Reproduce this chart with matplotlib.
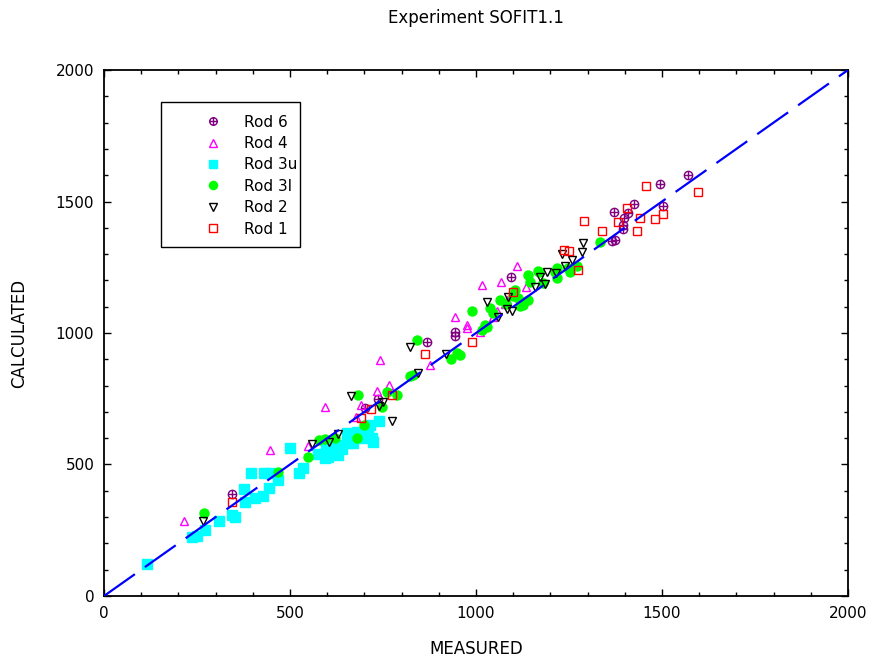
import numpy as np
import matplotlib
matplotlib.use("Agg")
from matplotlib import pyplot as plt
from matplotlib.path import Path
from matplotlib.patches import Rectangle
from matplotlib.ticker import MultipleLocator

# measured / calculated values per rod
rod6_x = [344, 702, 737, 868, 944, 944, 1094, 1366, 1374, 1395, 1395, 1398, 1409, 1371, 1425, 1503, 1495, 1570]
rod6_y = [388, 715, 749, 966, 989, 1004, 1213, 1350, 1354, 1395, 1411, 1437, 1456, 1460, 1490, 1483, 1567, 1601]

rod4_x = [215, 446, 548, 594, 677, 691, 734, 742, 766, 876, 944, 976, 976, 1011, 1016, 1046, 1056, 1067,
          1083, 1078, 1110, 1134]
rod4_y = [285, 555, 570, 719, 681, 726, 779, 897, 802, 878, 1061, 1030, 1019, 1004, 1183, 1061, 1084, 1194,
          1125, 1110, 1255, 1175]

rod3u_x = [116, 237, 250, 272, 309, 344, 352, 376, 379, 395, 406, 427, 444, 430, 446, 468, 500, 524, 535,
           575, 594, 602, 621, 629, 613, 625, 653, 653, 669, 680, 695, 710, 715, 720, 723, 739, 597, 640, 660]
rod3u_y = [122, 224, 228, 251, 285, 308, 300, 407, 357, 468, 373, 380, 411, 468, 468, 441, 563, 468, 486,
           540, 525, 530, 544, 536, 567, 575, 620, 582, 582, 624, 600, 624, 650, 601, 586, 665, 570, 560, 600]

rod3l_x = [269, 468, 548, 578, 594, 620, 680, 683, 699, 747, 761, 788, 823, 831, 841, 933, 949, 957, 989,
           1016, 1024, 1030, 1038, 1046, 1065, 1080, 1105, 1113, 1118, 1126, 1126, 1140, 1140, 1145, 1167,
           1169, 1212, 1218, 1218, 1247, 1253, 1271, 1333, 1180, 1100]
rod3l_y = [316, 471, 529, 593, 597, 600, 601, 764, 650, 719, 776, 764, 836, 840, 973, 901, 924, 916, 1084,
           1011, 1030, 1023, 1095, 1076, 1125, 1110, 1163, 1133, 1103, 1106, 1118, 1125, 1220, 1194, 1236,
           1232, 1232, 1247, 1209, 1247, 1232, 1255, 1346, 1190, 1140]

rod2_x = [266, 559, 605, 629, 664, 739, 750, 775, 823, 844, 919, 1030, 1059, 1083, 1086, 1097, 1159, 1172,
          1185, 1191, 1215, 1231, 1239, 1258, 1285, 1288]
rod2_y = [285, 578, 585, 616, 760, 722, 738, 667, 947, 848, 920, 1118, 1061, 1091, 1137, 1084, 1175, 1213,
          1186, 1232, 1228, 1300, 1255, 1278, 1308, 1342]

rod1_x = [344, 691, 718, 774, 863, 989, 1099, 1237, 1250, 1274, 1290, 1339, 1382, 1406, 1433, 1441, 1457,
          1481, 1503, 1597]
rod1_y = [357, 677, 711, 764, 920, 966, 1156, 1316, 1312, 1240, 1426, 1388, 1422, 1475, 1388, 1437, 1559,
          1433, 1452, 1536]

# circle with a plus inside
circ = Path.unit_circle()
oplus = Path.make_compound_path(
    circ,
    Path([(-1, 0), (1, 0)], [Path.MOVETO, Path.LINETO]),
    Path([(0, -1), (0, 1)], [Path.MOVETO, Path.LINETO]))

fig = plt.figure(figsize=(8.69, 6.6), dpi=100)
ax = fig.add_axes([0.1197, 0.0970, 0.8561, 0.7969])

ax.plot([0, 2000], [0, 2000], color='#0000ff', lw=1.6, dashes=(17, 5.5), zorder=5)

ms = 6
ax.plot(rod6_x, rod6_y, ls='none', marker=oplus, ms=ms, mfc='none', mec='#800080', mew=1.0, label='Rod 6')
ax.plot(rod4_x, rod4_y, ls='none', marker='^', ms=ms, mfc='none', mec='#ff00ff', mew=1.0, label='Rod 4')
ax.plot(rod3u_x, rod3u_y, ls='none', marker='s', ms=6.5, mfc='#00ffff', mec='#00ffff', label='Rod 3u')
ax.plot(rod3l_x, rod3l_y, ls='none', marker='o', ms=6.5, mfc='#00ff00', mec='#00ff00', label='Rod 3l')
ax.plot(rod2_x, rod2_y, ls='none', marker='v', ms=ms, mfc='none', mec='black', mew=1.0, label='Rod 2')
ax.plot(rod1_x, rod1_y, ls='none', marker='s', ms=ms, mfc='none', mec='#ff0000', mew=1.0, label='Rod 1')

ax.set_xlim(0, 2000)
ax.set_ylim(0, 2000)
ax.xaxis.set_major_locator(MultipleLocator(500))
ax.yaxis.set_major_locator(MultipleLocator(500))
ax.xaxis.set_minor_locator(MultipleLocator(100))
ax.yaxis.set_minor_locator(MultipleLocator(100))
ax.tick_params(which='both', direction='in', top=True, right=True, labelsize=11, width=1)
ax.tick_params(which='major', length=5, pad=7)
ax.tick_params(which='minor', length=3)
for s in ax.spines.values():
    s.set_linewidth(1.3)

ax.set_xlabel('MEASURED', fontsize=12, labelpad=14)
ax.set_ylabel('CALCULATED', fontsize=12, labelpad=20)
fig.text(0.548, 0.972, 'Experiment SOFIT1.1', ha='center', va='center', fontsize=12)

# legend box drawn by hand, legend itself without frame
ax.add_patch(Rectangle((0.0766, 0.6635), 0.1868, 0.2755, transform=ax.transAxes,
                       fill=True, facecolor='white', edgecolor='black', lw=1.0, zorder=9))
leg = ax.legend(loc='upper left', bbox_to_anchor=(0.1263, 0.9154), fontsize=11, frameon=False,
                handlelength=2.0, handletextpad=1.0, borderpad=0, labelspacing=0.42,
                borderaxespad=0, markerscale=0.9)
leg.set_zorder(10)

plt.savefig('out.png', dpi=100)
